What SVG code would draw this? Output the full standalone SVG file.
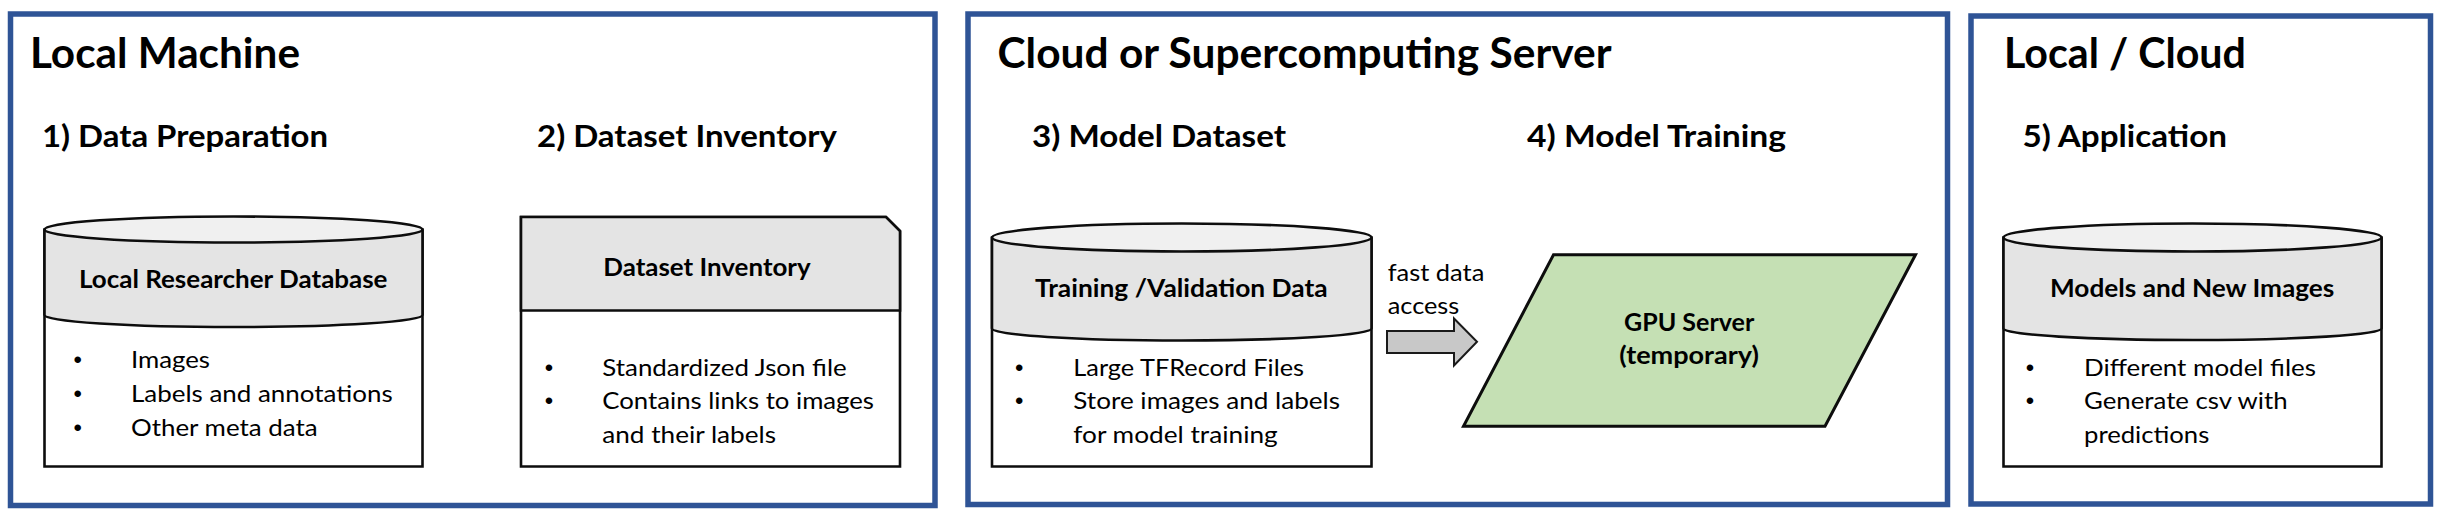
<svg xmlns="http://www.w3.org/2000/svg" width="2441" height="517" viewBox="0 0 2441 517">
<style>
  .frame { fill: #ffffff; stroke: #2F5496; stroke-width: 5.5; }
  .ln { stroke: #0d0d0d; stroke-width: 2.6; }
  .body { fill: #ffffff; stroke: #0d0d0d; stroke-width: 2.6; }
  .band { fill: #E4E4E4; stroke: #0d0d0d; stroke-width: 2.6; }
  .cap { fill: #F0F0F0; stroke: #0d0d0d; stroke-width: 2.6; }
  text { font-family: Lato, "Liberation Sans", sans-serif; fill: #000000; }
  .h1 { font-size: 42px; font-weight: bold; }
  .h2 { font-size: 29.5px; font-weight: bold; }
  .nt { font-size: 24px; font-weight: bold; }
  .bt { font-size: 24px; }
  .bu { font-family: "Liberation Sans", sans-serif; font-size: 24px; text-anchor: middle; }
</style>
<rect width="2441" height="517" fill="#ffffff"/>

<g id="frame-local-machine">
  <rect class="frame" x="10.5" y="14" width="924.5" height="491.5"/>
  <text class="h1" x="30" y="68" textLength="270" lengthAdjust="spacingAndGlyphs">Local Machine</text>
  <text class="h2" x="42" y="147" textLength="286" lengthAdjust="spacingAndGlyphs">1) Data Preparation</text>
  <text class="h2" x="537" y="147" textLength="300" lengthAdjust="spacingAndGlyphs">2) Dataset Inventory</text>
</g>

<g id="frame-cloud">
  <rect class="frame" x="968" y="14" width="979.5" height="490.5"/>
  <text class="h1" x="997.5" y="68" textLength="614" lengthAdjust="spacingAndGlyphs">Cloud or Supercomputing Server</text>
  <text class="h2" x="1032" y="147" textLength="254" lengthAdjust="spacingAndGlyphs">3) Model Dataset</text>
  <text class="h2" x="1527" y="147" textLength="259" lengthAdjust="spacingAndGlyphs">4) Model Training</text>
</g>

<g id="frame-local-cloud">
  <rect class="frame" x="1971" y="16" width="459.5" height="488"/>
  <text class="h1" x="2004" y="68" textLength="242" lengthAdjust="spacingAndGlyphs">Local / Cloud</text>
  <text class="h2" x="2022.5" y="147" textLength="204.5" lengthAdjust="spacingAndGlyphs">5) Application</text>
</g>

<g id="node-local-researcher-database">
  <path class="body" d="M44.5,229.5 V466.5 H422.5 V229.5"/>
  <path class="band" d="M44.5,229.5 V315 A189,12 0 0 0 422.5,315 V229.5 Z"/>
  <ellipse class="cap" cx="233.5" cy="229.5" rx="189" ry="13"/>
  <text class="nt" x="79" y="287.5" textLength="308.5" lengthAdjust="spacingAndGlyphs">Local Researcher Database</text>
  <text class="bu" x="77.7" y="368">•</text>
  <text class="bu" x="77.7" y="402">•</text>
  <text class="bu" x="77.7" y="436">•</text>
  <text class="bt" x="131" y="368.3" textLength="79" lengthAdjust="spacingAndGlyphs">Images</text>
  <text class="bt" x="131" y="402.3" textLength="261.7" lengthAdjust="spacingAndGlyphs">Labels and annotations</text>
  <text class="bt" x="131" y="436.3" textLength="186.7" lengthAdjust="spacingAndGlyphs">Other meta data</text>
</g>

<g id="node-dataset-inventory">
  <path class="body" d="M521,217 H886 L900,231 V466.5 H521 Z"/>
  <path class="band" d="M521,217 H886 L900,231 V310.5 H521 Z"/>
  <text class="nt" x="603.3" y="276" textLength="207.4" lengthAdjust="spacingAndGlyphs">Dataset Inventory</text>
  <text class="bu" x="549" y="375.5">•</text>
  <text class="bu" x="549" y="409">•</text>
  <text class="bt" x="602.3" y="375.7" textLength="244.4" lengthAdjust="spacingAndGlyphs">Standardized Json file</text>
  <text class="bt" x="602.3" y="409.3" textLength="271.7" lengthAdjust="spacingAndGlyphs">Contains links to images</text>
  <text class="bt" x="602.3" y="443.3" textLength="173.7" lengthAdjust="spacingAndGlyphs">and their labels</text>
</g>

<g id="node-training-validation-data">
  <path class="body" d="M992,237.5 V466.5 H1371.5 V237.5"/>
  <path class="band" d="M992,237.5 V328.5 A189.75,12 0 0 0 1371.5,328.5 V237.5 Z"/>
  <ellipse class="cap" cx="1181.75" cy="237.5" rx="189.75" ry="14"/>
  <text class="nt" x="1035" y="296.7" textLength="292.7" lengthAdjust="spacingAndGlyphs">Training /Validation Data</text>
  <text class="bu" x="1019.3" y="375.5">•</text>
  <text class="bu" x="1019.3" y="409">•</text>
  <text class="bt" x="1073.3" y="375.7" textLength="230.7" lengthAdjust="spacingAndGlyphs">Large TFRecord Files</text>
  <text class="bt" x="1073.3" y="409.3" textLength="266.7" lengthAdjust="spacingAndGlyphs">Store images and labels</text>
  <text class="bt" x="1073.3" y="443.3" textLength="204.4" lengthAdjust="spacingAndGlyphs">for model training</text>
</g>

<g id="node-gpu-server">
  <polygon points="1553.5,254.8 1915.5,254.8 1825,426.2 1463.5,426.2" fill="#C5E0B4" stroke="#0d0d0d" stroke-width="3"/>
  <text class="nt" x="1624" y="331" textLength="130.3" lengthAdjust="spacingAndGlyphs">GPU Server</text>
  <text class="nt" x="1619.3" y="364.3" textLength="139.7" lengthAdjust="spacingAndGlyphs">(temporary)</text>
</g>

<g id="node-models-new-images">
  <path class="body" d="M2003.5,237.5 V466.5 H2381.5 V237.5"/>
  <path class="band" d="M2003.5,237.5 V328.5 A189,11.5 0 0 0 2381.5,328.5 V237.5 Z"/>
  <ellipse class="cap" cx="2192.5" cy="237.5" rx="189" ry="14"/>
  <text class="nt" x="2050" y="296.7" textLength="284.3" lengthAdjust="spacingAndGlyphs">Models and New Images</text>
  <text class="bu" x="2030" y="375.5">•</text>
  <text class="bu" x="2030" y="409">•</text>
  <text class="bt" x="2084" y="375.7" textLength="232" lengthAdjust="spacingAndGlyphs">Different model files</text>
  <text class="bt" x="2084" y="409.3" textLength="203.7" lengthAdjust="spacingAndGlyphs">Generate csv with</text>
  <text class="bt" x="2084" y="443.3" textLength="125.3" lengthAdjust="spacingAndGlyphs">predictions</text>
</g>

<g id="connectors">
  <polygon points="1387,331 1454,331 1454,318.5 1477,341.8 1454,365.5 1454,353 1387,353" fill="#C8C8C8" stroke="#1a1a1a" stroke-width="2"/>
  <text class="bt" x="1387.7" y="280.7" textLength="96.6" lengthAdjust="spacingAndGlyphs">fast data</text>
  <text class="bt" x="1387.7" y="314.3" textLength="71.6" lengthAdjust="spacingAndGlyphs">access</text>
</g>
</svg>
